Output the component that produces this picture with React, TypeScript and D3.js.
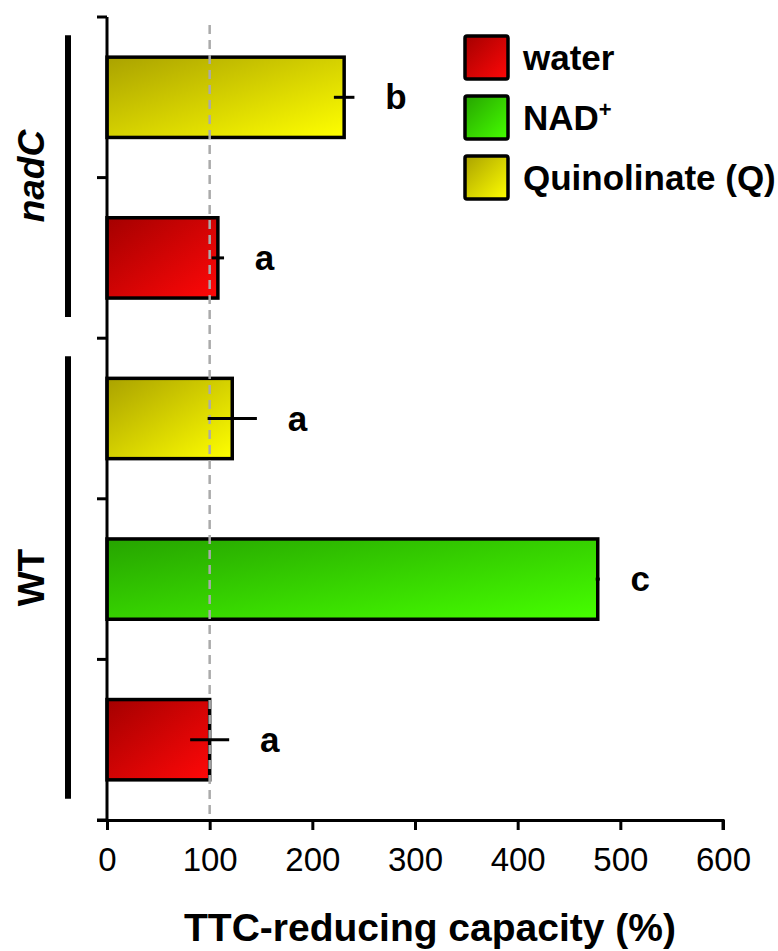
import React, { useEffect, useRef } from "react";
import * as d3 from "d3";

// bars from top to bottom
const rowKeys = ["nadC-Q", "nadC-water", "WT-Q", "WT-NAD", "WT-water"];
const rowGroup = ["nadC", "nadC", "WT", "WT", "WT"];
const rowTreatment = ["Q", "water", "Q", "NAD", "water"];
const values = [231, 108, 122, 478, 100];
const errors = [10, 6, 24, 2, 19];
const letters = ["b", "a", "a", "c", "a"];

const groups = ["nadC", "WT"];
const xTicks = [0, 100, 200, 300, 400, 500, 600];

const treatments = ["water", "NAD", "Q"];
const legendLabels = ["water", "NAD", "Quinolinate (Q)"];
const colorStops: Record<string, [string, string]> = {
  water: ["#a40000", "#ff0808"],
  NAD: ["#26a400", "#46ff00"],
  Q: ["#aaa200", "#ffff00"],
};

const FONT = "'Liberation Sans', Arial, sans-serif";

function App() {
  const svgRef = useRef<SVGSVGElement>(null);

  useEffect(() => {
    document.body.style.margin = "0";
    const w = 778;
    const h = 951;
    const svg = d3.select(svgRef.current).attr("width", w).attr("height", h);
    svg.selectAll("*").remove();

    const x = d3.scaleLinear().domain([0, 600]).range([107, 723]);
    const y = d3
      .scaleBand()
      .domain(rowKeys)
      .range([17, 820])
      .paddingInner(0.5)
      .paddingOuter(0.25);
    const step = y.step();

    // gradients
    const defs = svg.append("defs");
    treatments.forEach((t) => {
      const g = defs
        .append("linearGradient")
        .attr("id", "grad-" + t)
        .attr("x1", 0)
        .attr("y1", 0)
        .attr("x2", 1)
        .attr("y2", 1);
      g.append("stop").attr("offset", "0%").attr("stop-color", colorStops[t][0]);
      g.append("stop").attr("offset", "100%").attr("stop-color", colorStops[t][1]);
    });

    // bars
    svg
      .selectAll(".bar")
      .data(values)
      .join("rect")
      .attr("class", "bar")
      .attr("x", x(0))
      .attr("y", (v, i) => y(rowKeys[i])!)
      .attr("width", (v) => x(v) - x(0))
      .attr("height", y.bandwidth())
      .style("fill", (v, i) => `url(#grad-${rowTreatment[i]})`)
      .style("stroke", "#000")
      .style("stroke-width", 3.5);

    // reference line at 100 %, shows through the bars
    svg
      .append("line")
      .attr("x1", x(100))
      .attr("x2", x(100))
      .attr("y1", 25)
      .attr("y2", 820)
      .style("stroke", "#aaaaaa")
      .style("stroke-width", 2.5)
      .style("stroke-dasharray", "9,6");

    // error bars
    svg
      .selectAll(".err")
      .data(values)
      .join("line")
      .attr("class", "err")
      .attr("x1", (v, i) => x(v - errors[i]))
      .attr("x2", (v, i) => x(v + errors[i]))
      .attr("y1", (v, i) => y(rowKeys[i])! + y.bandwidth() / 2)
      .attr("y2", (v, i) => y(rowKeys[i])! + y.bandwidth() / 2)
      .style("stroke", "#000")
      .style("stroke-width", 3);

    // significance letters
    svg
      .selectAll(".letter")
      .data(values)
      .join("text")
      .attr("class", "letter")
      .attr("x", (v, i) => x(v + errors[i] + 30))
      .attr("y", (v, i) => y(rowKeys[i])! + y.bandwidth() / 2 + 12)
      .text((v, i) => letters[i])
      .style("font-family", FONT)
      .style("font-weight", "bold")
      .style("font-size", "35px");

    // y axis (no labels, ticks at band boundaries)
    const yEdges = rowKeys.map((k) => y(k)! - (step - y.bandwidth()) / 2);
    yEdges.push(820);
    svg
      .append("line")
      .attr("x1", x(0))
      .attr("x2", x(0))
      .attr("y1", 17)
      .attr("y2", 822)
      .style("stroke", "#000")
      .style("stroke-width", 3);
    svg
      .selectAll(".ytick")
      .data(yEdges)
      .join("line")
      .attr("class", "ytick")
      .attr("x1", x(0) - 10)
      .attr("x2", x(0))
      .attr("y1", (d) => d)
      .attr("y2", (d) => d)
      .style("stroke", "#000")
      .style("stroke-width", 3);

    // x axis
    const xAxis = d3.axisBottom(x).tickValues(xTicks).tickSize(10).tickPadding(18);
    const gx = svg.append("g").attr("transform", "translate(0,820)").call(xAxis);
    gx.select(".domain").attr("d", `M${x(0) - 10},0.5H${x(600)}V10`).style("stroke-width", 3);
    gx.selectAll(".tick line").style("stroke-width", 3);
    gx.selectAll(".tick text")
      .style("font-family", FONT)
      .style("font-size", "33px")
      .style("fill", "#000");

    svg
      .append("text")
      .attr("x", 430)
      .attr("y", 941)
      .attr("text-anchor", "middle")
      .text("TTC-reducing capacity (%)")
      .style("font-family", FONT)
      .style("font-weight", "bold")
      .style("font-size", "39px");

    // group brackets and labels
    groups.forEach((g) => {
      const idx = rowGroup.map((d, i) => (d === g ? i : -1)).filter((i) => i >= 0);
      const top = y(rowKeys[idx[0]])! - 22;
      const bottom = y(rowKeys[idx[idx.length - 1]])! + y.bandwidth() + 19;
      svg
        .append("line")
        .attr("x1", 68)
        .attr("x2", 68)
        .attr("y1", top)
        .attr("y2", bottom)
        .style("stroke", "#000")
        .style("stroke-width", 6);
      svg
        .append("text")
        .attr("transform", `translate(44,${(top + bottom) / 2}) rotate(-90)`)
        .attr("text-anchor", "middle")
        .text(g)
        .style("font-family", FONT)
        .style("font-weight", "bold")
        .style("font-style", g === "WT" ? "normal" : "italic")
        .style("font-size", "37px");
    });

    // legend
    const legend = svg
      .selectAll(".legend")
      .data(treatments)
      .join("g")
      .attr("class", "legend")
      .attr("transform", (d, i) => `translate(465,${36 + i * 60})`);
    legend
      .append("rect")
      .attr("width", 43)
      .attr("height", 43)
      .attr("rx", 2)
      .style("fill", (d) => `url(#grad-${d})`)
      .style("stroke", "#000")
      .style("stroke-width", 3.5);
    const lt = legend
      .append("text")
      .attr("x", 58)
      .attr("y", 34)
      .style("font-family", FONT)
      .style("font-weight", "bold")
      .style("font-size", "35px");
    lt.append("tspan").text((d, i) => legendLabels[i]);
    lt.filter((d) => d === "NAD")
      .append("tspan")
      .attr("dy", -13)
      .style("font-size", "22px")
      .text("+");
  }, []);

  return (
    <div>
      <svg ref={svgRef} style={{ display: "block" }}></svg>
    </div>
  );
}

export default App;
